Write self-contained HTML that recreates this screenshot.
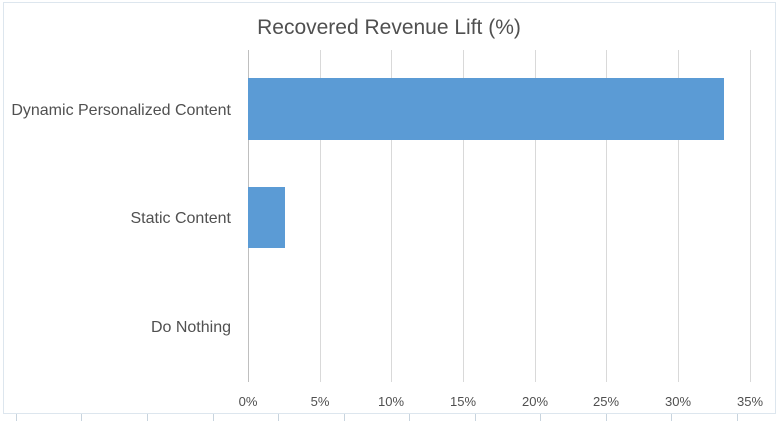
<!DOCTYPE html>
<html><head><style>
html,body{margin:0;padding:0;background:#fff;}
svg{display:block;}
text{font-family:"Liberation Sans",sans-serif;fill:#505050;}
</style></head><body>
<svg width="778" height="421" viewBox="0 0 778 421">
<rect x="0" y="0" width="778" height="421" fill="#fff"/>
<rect x="3.5" y="2.5" width="772" height="411" fill="#fff" stroke="#dde6ee" stroke-width="1"/>
<g stroke="#c8d4de" stroke-width="1">
<line x1="16.5" y1="414" x2="16.5" y2="421"/><line x1="81.5" y1="414" x2="81.5" y2="421"/><line x1="147.5" y1="414" x2="147.5" y2="421"/><line x1="213.5" y1="414" x2="213.5" y2="421"/><line x1="278.5" y1="414" x2="278.5" y2="421"/><line x1="344.5" y1="414" x2="344.5" y2="421"/><line x1="409.5" y1="414" x2="409.5" y2="421"/><line x1="475.5" y1="414" x2="475.5" y2="421"/><line x1="540.5" y1="414" x2="540.5" y2="421"/><line x1="606.5" y1="414" x2="606.5" y2="421"/><line x1="671.5" y1="414" x2="671.5" y2="421"/><line x1="737.5" y1="414" x2="737.5" y2="421"/>
</g>
<text x="389" y="34" font-size="21" text-anchor="middle">Recovered Revenue Lift (%)</text>
<g stroke="#d9d9d9" stroke-width="1">
<line x1="320.5" y1="50" x2="320.5" y2="382"/><line x1="391.5" y1="50" x2="391.5" y2="382"/><line x1="463.5" y1="50" x2="463.5" y2="382"/><line x1="535.5" y1="50" x2="535.5" y2="382"/><line x1="606.5" y1="50" x2="606.5" y2="382"/><line x1="678.5" y1="50" x2="678.5" y2="382"/><line x1="750.5" y1="50" x2="750.5" y2="382"/>
</g>
<line x1="248.5" y1="50" x2="248.5" y2="382" stroke="#bfbfbf"/>
<rect x="248" y="78" width="476" height="62" fill="#5b9bd5"/>
<rect x="248" y="187" width="37" height="61" fill="#5b9bd5"/>
<g font-size="16" text-anchor="end">
<text x="231" y="115">Dynamic Personalized Content</text>
<text x="231" y="223">Static Content</text>
<text x="231" y="332">Do Nothing</text>
</g>
<g font-size="13" text-anchor="middle">
<text x="248" y="406">0%</text><text x="320" y="406">5%</text><text x="391" y="406">10%</text><text x="463" y="406">15%</text><text x="535" y="406">20%</text><text x="606" y="406">25%</text><text x="678" y="406">30%</text><text x="750" y="406">35%</text>
</g>
</svg>
</body></html>
